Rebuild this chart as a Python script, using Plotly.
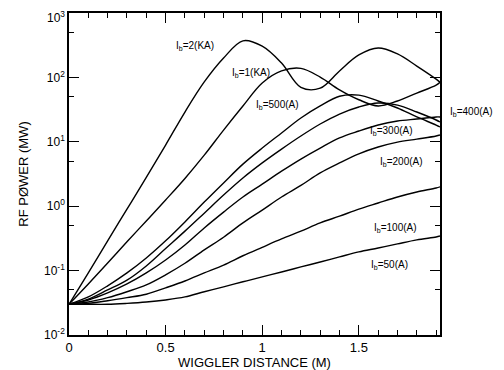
import math
import plotly.graph_objects as go

distance_m = [0.0, 0.1, 0.2, 0.3, 0.4, 0.5, 0.6, 0.7, 0.8, 0.9, 1.0,
              1.1, 1.2, 1.3, 1.4, 1.5, 1.6, 1.7, 1.8, 1.9, 1.92]

power_2ka = [0.03, 0.092, 0.29, 0.9, 2.8, 8.9, 29, 85, 200, 370, 305,
             167, 70, 68, 126, 223, 286, 231, 150, 94, 84]
power_1ka = [0.03, 0.062, 0.131, 0.28, 0.59, 1.25, 2.7, 6.2, 15.2, 36, 82,
             126, 138, 101, 64, 45, 36, 43, 57, 76, 84]
power_500a = [0.03, 0.039, 0.058, 0.092, 0.157, 0.29, 0.57, 1.16, 2.3, 4.5, 8.0,
              13.7, 23.4, 36, 51, 53, 43, 33.5, 24.3, 18.2, 17]
power_400a = [0.03, 0.036, 0.050, 0.071, 0.118, 0.22, 0.41, 0.78, 1.49, 2.74, 4.7,
              7.7, 12.3, 18.9, 27, 34.7, 40, 37.2, 29, 21.8, 20.3]
power_300a = [0.03, 0.035, 0.045, 0.062, 0.092, 0.146, 0.25, 0.46, 0.81, 1.39, 2.2,
              3.5, 5.4, 8.0, 11.5, 14.7, 18.2, 21, 22.6, 24.3, 24.3]
power_200a = [0.03, 0.0325, 0.038, 0.047, 0.06, 0.086, 0.13, 0.21, 0.33, 0.55, 0.87,
              1.39, 2.1, 3.3, 4.7, 6.5, 8.3, 9.9, 11.0, 12.3, 12.8]
power_100a = [0.03, 0.031, 0.034, 0.038, 0.043, 0.054, 0.069, 0.092, 0.122, 0.17, 0.23,
              0.31, 0.41, 0.55, 0.7, 0.9, 1.12, 1.39, 1.66, 1.92, 2.0]
power_50a = [0.03, 0.03, 0.03, 0.031, 0.0325, 0.035, 0.039, 0.047, 0.056, 0.067, 0.08,
             0.095, 0.114, 0.136, 0.163, 0.195, 0.224, 0.26, 0.30, 0.333, 0.344]

series = [power_2ka, power_1ka, power_500a, power_400a,
          power_300a, power_200a, power_100a, power_50a]

y_tick_vals = [0.01, 0.1, 1, 10, 100, 1000]
y_tick_text = ["10<sup>-2</sup>", "10<sup>-1</sup>", "10<sup>0</sup>",
               "10<sup>1</sup>", "10<sup>2</sup>", ""]
y_top_label = "10<sup>3</sup>"
x_tick_vals = [0, 0.5, 1, 1.5]
x_tick_text = ["0", "0.5", "1", "1.5"]

# curve labels: text, x (m), y (MW)
label_text = ["I<sub>b</sub>=2(KA)", "I<sub>b</sub>=1(KA)", "I<sub>b</sub>=500(A)",
              "I<sub>b</sub>=300(A)", "I<sub>b</sub>=200(A)", "I<sub>b</sub>=100(A)",
              "I<sub>b</sub>=50(A)"]
label_x = [0.65, 0.94, 1.08, 1.67, 1.72, 1.69, 1.66]
label_y = [310, 118, 37, 14.5, 4.8, 0.46, 0.123]

FONT = "Liberation Sans, Arial, sans-serif"

fig = go.Figure()
for ys in series:
    fig.add_trace(go.Scatter(
        x=distance_m, y=ys, mode="lines",
        line=dict(color="black", width=1.4, shape="spline", smoothing=1.0),
        showlegend=False, hoverinfo="skip"))

for text, xv, yv in zip(label_text, label_x, label_y):
    fig.add_annotation(x=xv, y=math.log10(yv), xref="x", yref="y", text=text,
                       showarrow=False, font=dict(family=FONT, size=10, color="black"))
fig.add_annotation(x=1.086, y=math.log10(29), xref="paper", yref="y",
                   xanchor="center", yanchor="middle",
                   text="I<sub>b</sub>=400(A)", showarrow=False,
                   font=dict(family=FONT, size=10, color="black"))
# top decade label, nudged down so it stays inside the page
fig.add_annotation(x=0, y=1, xref="paper", yref="paper", xanchor="right", yanchor="top",
                   xshift=-2, yshift=6, text=y_top_label, showarrow=False,
                   font=dict(family=FONT, size=12, color="black"))

# the page body adds an 8px margin; size the figure so it fits the 504x370 window
fig.update_layout(
    width=496, height=362,
    margin=dict(l=61, r=64, t=5, b=35),
    paper_bgcolor="white", plot_bgcolor="white",
    font=dict(family=FONT, size=13, color="black"),
)
fig.update_xaxes(
    range=[0, 1.92], tickmode="array", tickvals=x_tick_vals, ticktext=x_tick_text,
    ticks="inside", ticklen=10, tickwidth=1.3, tickcolor="black",
    showline=True, linecolor="black", linewidth=1.6, mirror="ticks",
    showgrid=False, zeroline=False, automargin=False,
    minor=dict(dtick=0.1, ticks="inside", ticklen=5, tickwidth=1.2, tickcolor="black", showgrid=False),
    title=dict(text="WIGGLER DISTANCE (M)", standoff=0, font=dict(size=13)),
    tickfont=dict(size=13),
)
fig.update_yaxes(
    type="log", range=[-2, 3], tickmode="array", tickvals=y_tick_vals, ticktext=y_tick_text,
    ticks="inside", ticklen=10, tickwidth=1.3, tickcolor="black",
    showline=True, linecolor="black", linewidth=1.6, mirror="ticks",
    showgrid=False, zeroline=False, automargin=False,
    minor=dict(tickvals=[0.05, 0.5, 5, 50, 500], ticks="inside", ticklen=5,
               tickwidth=1.2, tickcolor="black", showgrid=False),
    title=dict(text="RF PØWER (MW)", standoff=12, font=dict(size=13)),
    tickfont=dict(size=12),
)

fig.write_html("out.html")
